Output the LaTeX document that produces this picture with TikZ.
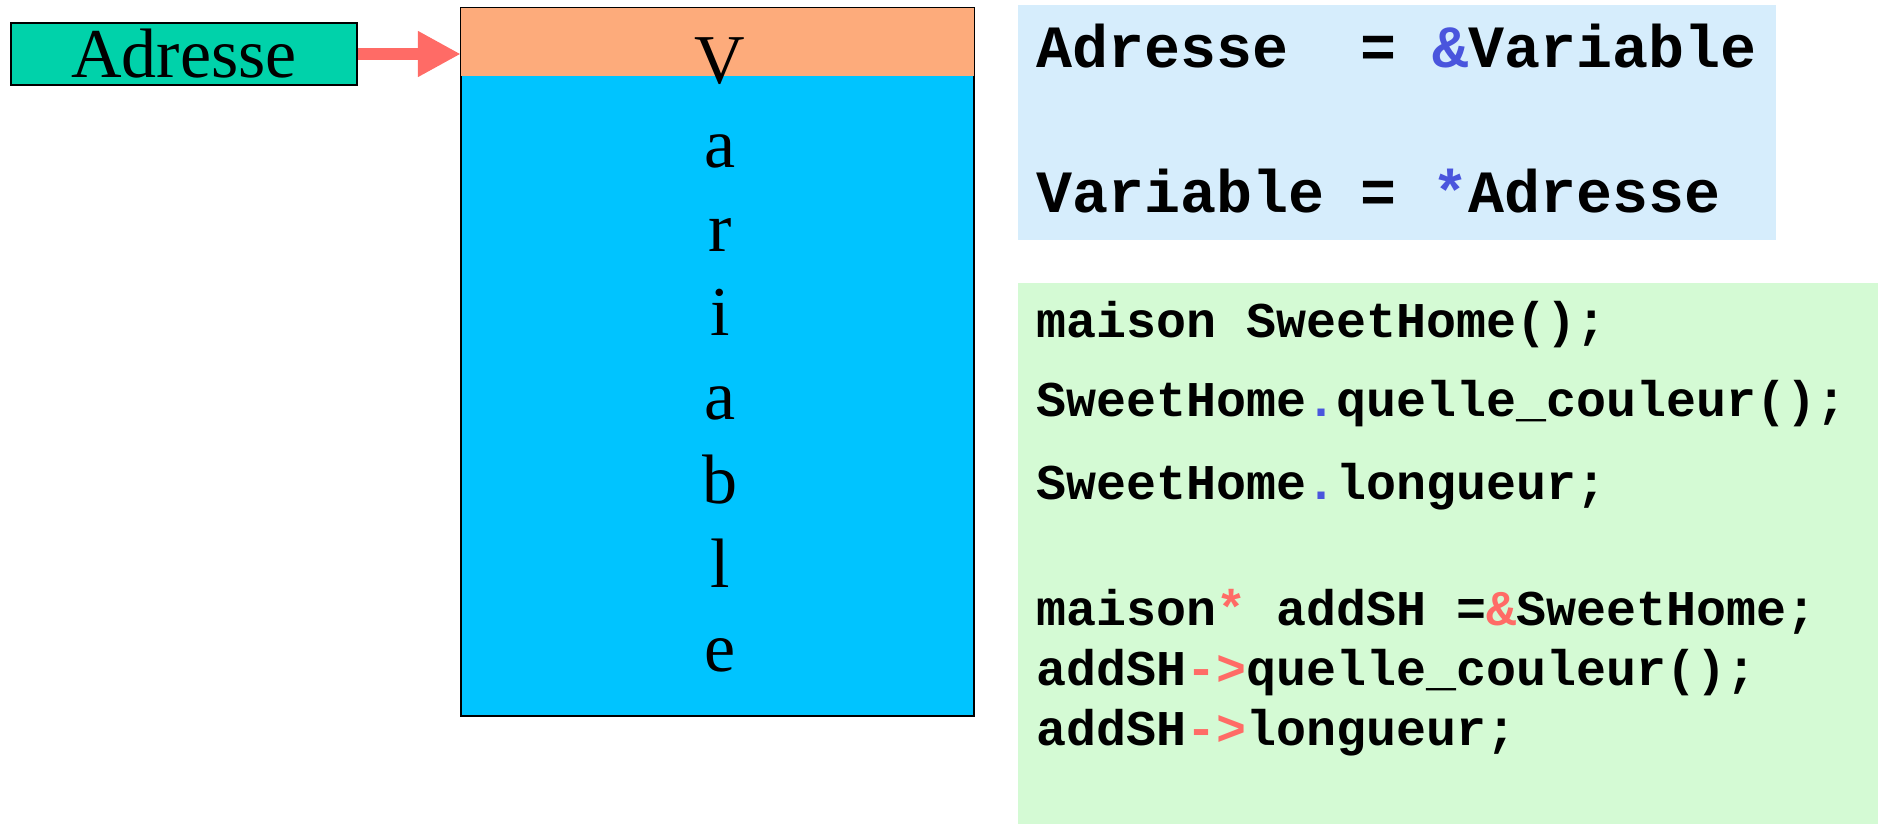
\documentclass[tikz,border=0pt]{standalone}
\usepackage{fontspec}
\setmainfont{Liberation Serif}
\newfontfamily\codefont{Liberation Mono}
\usetikzlibrary{arrows.meta}
\definecolor{adrfill}{HTML}{00D2AA}
\definecolor{headfill}{HTML}{FDAB7B}
\definecolor{varfill}{HTML}{00C4FF}
\definecolor{arrowred}{HTML}{FF6B66}
\definecolor{panelblue}{HTML}{D6EDFC}
\definecolor{panelgreen}{HTML}{D4FAD4}
\definecolor{cblue}{HTML}{4A55DD}
\definecolor{cred}{HTML}{FF6B66}
\tikzset{
  adrbox/.style={draw=black, line width=2pt, fill=adrfill, inner sep=0pt,
    minimum width=346pt, minimum height=62pt,
    font=\fontsize{70}{84}\selectfont},
  varbox/.style={draw=black, line width=1.5pt, fill=varfill, inner sep=0pt,
    minimum width=513pt, minimum height=708pt},
  headbox/.style={fill=headfill, inner sep=0pt, minimum width=513pt, minimum height=68pt},
  letters/.style={inner sep=0pt, align=center, font=\fontsize{70}{84.1}\selectfont},
  bigcode/.style={anchor=base west, inner sep=0pt, font=\codefont\bfseries\fontsize{60}{72}\selectfont},
  code/.style={anchor=base west, inner sep=0pt, font=\codefont\bfseries\fontsize{50}{60}\selectfont},
  ptr/.style={draw=arrowred, line width=12pt, -{Triangle[length=43pt,width=43pt]}}
}
\begin{document}
\begin{tikzpicture}[x=1pt,y=-1pt]
\useasboundingbox (0,0) rectangle (1878,824);
% panels
\fill[panelblue] (1018,5) rectangle (1776,240);
\fill[panelgreen] (1018,283) rectangle (1878,824);
% address box
\node[adrbox] (adr) at (184,54) {Adresse};
% variable box
\node[varbox] (var) at (717.5,362) {};
\node[headbox] (head) at (717.5,42) {};
\node[letters, anchor=north] (vname) at (720,37) {V\\a\\r\\i\\a\\b\\l\\e};
% arrow
\draw[ptr] (adr.east) -- (adr.east -| head.west);
% top code
\node[bigcode] (l1) at (1036,68) {Adresse~~=~\textcolor{cblue}{\&}Variable};
\node[bigcode] (l2) at (1036,212) {Variable~=~\textcolor{cblue}{*}Adresse};
% green code
\node[code] (c1) at (1036,337) {maison~SweetHome();};
\node[code] (c2) at (1036,416) {SweetHome\textcolor{cblue}{.}quelle\_couleur();};
\node[code] (c3) at (1036,499) {SweetHome\textcolor{cblue}{.}longueur;};
\node[code] (c4) at (1036,625) {maison\textcolor{cred}{*}~addSH~=\textcolor{cred}{\&}SweetHome;};
\node[code] (c5) at (1036,685) {addSH\textcolor{cred}{->}quelle\_couleur();};
\node[code] (c6) at (1036,745) {addSH\textcolor{cred}{->}longueur;};
\end{tikzpicture}
\end{document}
